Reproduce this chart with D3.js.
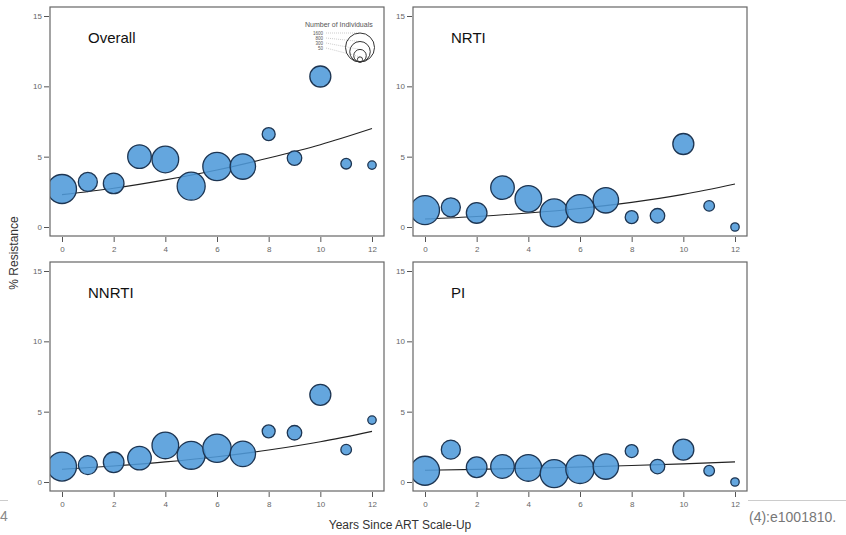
<!DOCTYPE html>
<html>
<head>
<meta charset="utf-8">
<script src="https://cdn.jsdelivr.net/npm/d3@7"></script>
<style>
  body { margin: 0; background: #fff; }
  svg { display: block; font-family: "Liberation Sans", Arial, sans-serif; }
</style>
</head>
<body>
<div id="chart"></div>
<script>
// data
var years = [0, 1, 2, 3, 4, 5, 6, 7, 8, 9, 10, 11, 12];
var counts = [1600, 690, 810, 1060, 1350, 1490, 1530, 1230, 320, 400, 840, 215, 135];

var overall = [2.7, 3.2, 3.1, 5.0, 4.8, 2.9, 4.3, 4.3, 6.6, 4.9, 10.7, 4.5, 4.4];
var nrti = [1.2, 1.4, 1.0, 2.8, 2.0, 1.0, 1.3, 1.9, 0.7, 0.8, 5.9, 1.5, 0.0];
var nnrti = [1.1, 1.2, 1.4, 1.7, 2.6, 1.9, 2.4, 2.0, 3.6, 3.5, 6.2, 2.3, 4.4];
var pi = [0.8, 2.3, 1.05, 1.1, 1.0, 0.6, 0.9, 1.1, 2.2, 1.1, 2.3, 0.8, 0.0];

// fitted trend, read at even years
var trendYears = [0, 2, 4, 6, 8, 10, 12];
var trendOverall = [2.3, 2.75, 3.35, 4.05, 4.9, 5.85, 7.0];
var trendNrti = [0.57, 0.75, 1.0, 1.32, 1.75, 2.32, 3.06];
var trendNnrti = [0.9, 1.14, 1.43, 1.8, 2.27, 2.86, 3.6];
var trendPi = [0.83, 0.9, 0.98, 1.07, 1.17, 1.29, 1.43];

var panelNames = ['Overall', 'NRTI', 'NNRTI', 'PI'];
var xTicks = [0, 2, 4, 6, 8, 10, 12];
var yTicks = [0, 5, 10, 15];
var legendCounts = [1600, 800, 300, 50];

var W = 846, H = 535;
var svg = d3.select('#chart').append('svg')
    .attr('width', W)
    .attr('height', H);

var rScale = d3.scaleSqrt().domain([0, 1600]).range([0, 14.5]);

var panels = [
    {name: panelNames[0], values: overall, trend: trendOverall, x: 50, y: 7},
    {name: panelNames[1], values: nrti, trend: trendNrti, x: 413, y: 7},
    {name: panelNames[2], values: nnrti, trend: trendNnrti, x: 50, y: 262},
    {name: panelNames[3], values: pi, trend: trendPi, x: 413, y: 262}
];
var bw = 334, bh = 229;

panels.forEach(function (p, i) {
    var g = svg.append('g').attr('transform', 'translate(' + p.x + ',' + p.y + ')');

    var x = d3.scaleLinear().domain([0, 12]).range([12, bw - 12]);
    var y = d3.scaleLinear().domain([0, 15]).range([bh - 9, 9]);

    // clip to the box
    g.append('clipPath').attr('id', 'clip-' + i)
        .append('rect').attr('width', bw).attr('height', bh);

    var xAxis = g.append('g')
        .attr('transform', 'translate(0,' + (bh + 1) + ')')
        .call(d3.axisBottom(x).tickValues(xTicks).tickSize(5).tickPadding(4));
    var yAxis = g.append('g')
        .attr('transform', 'translate(-1,0)')
        .call(d3.axisLeft(y).tickValues(yTicks).tickSize(5).tickPadding(2));
    [xAxis, yAxis].forEach(function (a) {
        a.select('.domain').remove();
        a.selectAll('line').attr('stroke', '#555');
        a.selectAll('text').attr('fill', '#666').style('font-size', '8px');
    });

    var body = g.append('g').attr('clip-path', 'url(#clip-' + i + ')');

    var line = d3.line()
        .x(function (d, j) { return x(trendYears[j]); })
        .y(function (d) { return y(d); })
        .curve(d3.curveMonotoneX);
    body.append('path')
        .attr('d', line(p.trend))
        .attr('fill', 'none')
        .attr('stroke', '#222')
        .attr('stroke-width', 1.1);

    body.selectAll('circle.pt')
        .data(years)
        .enter()
        .append('circle')
        .attr('class', 'pt')
        .attr('cx', function (d) { return x(d); })
        .attr('cy', function (d, j) { return y(p.values[j]); })
        .attr('r', function (d, j) { return rScale(counts[j]); })
        .attr('fill', '#4f9ada')
        .attr('fill-opacity', 0.88)
        .attr('stroke', '#1d3552')
        .attr('stroke-width', 1.3);

    g.append('rect')
        .attr('width', bw)
        .attr('height', bh)
        .attr('fill', 'none')
        .attr('stroke', '#666')
        .attr('stroke-width', 1.2);

    g.append('text')
        .attr('x', 38)
        .attr('y', 36)
        .attr('fill', '#111')
        .style('font-size', '15px')
        .text(p.name);

    if (i === 0) {
        // size legend
        var lg = body.append('g');
        lg.append('text')
            .attr('x', 255).attr('y', 20)
            .attr('fill', '#555')
            .style('font-size', '7px')
            .text('Number of Individuals');
        var cx = 310, base = 55;
        legendCounts.forEach(function (n, k) {
            var ly = 26 + k * 5;
            lg.append('text')
                .attr('x', 273).attr('y', ly + 1.5)
                .attr('text-anchor', 'end')
                .attr('fill', '#555')
                .style('font-size', '4.5px')
                .text(n);
            lg.append('line')
                .attr('x1', 276).attr('x2', cx)
                .attr('y1', ly).attr('y2', base - 2 * rScale(n))
                .attr('stroke', '#999')
                .attr('stroke-width', 0.5)
                .attr('stroke-dasharray', '1,1');
            lg.append('circle')
                .attr('cx', cx)
                .attr('cy', base - rScale(n))
                .attr('r', rScale(n))
                .attr('fill', 'none')
                .attr('stroke', '#333')
                .attr('stroke-width', 1);
        });
    }
});

// axis titles
svg.append('text')
    .attr('transform', 'translate(18,253) rotate(-90)')
    .attr('text-anchor', 'middle')
    .attr('fill', '#333')
    .style('font-size', '12px')
    .text('% Resistance');
svg.append('text')
    .attr('x', 400).attr('y', 529)
    .attr('text-anchor', 'middle')
    .attr('fill', '#333')
    .style('font-size', '12px')
    .text('Years Since ART Scale-Up');

// page remnants around the figure
svg.append('line').attr('x1', 0).attr('x2', 8).attr('y1', 500.5).attr('y2', 500.5)
    .attr('stroke', '#ccc');
svg.append('line').attr('x1', 748).attr('x2', 846).attr('y1', 500.5).attr('y2', 500.5)
    .attr('stroke', '#ccc');
svg.append('text').attr('x', 0).attr('y', 521)
    .attr('fill', '#888').style('font-size', '14px').text('4');
svg.append('text').attr('x', 749).attr('y', 522)
    .attr('fill', '#777').style('font-size', '14px').text('(4):e1001810.');
</script>
</body>
</html>
